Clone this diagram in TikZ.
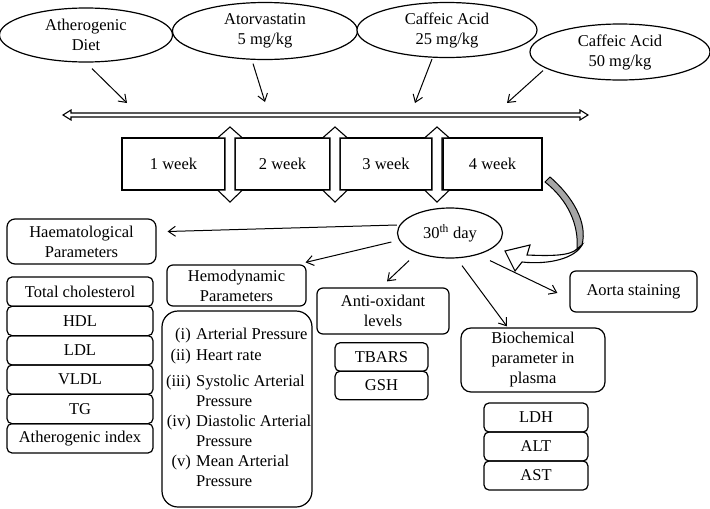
\documentclass[tikz,border=0pt]{standalone}
\usepackage{fontspec}
\setmainfont{Liberation Serif}
\usetikzlibrary{shapes.geometric,arrows.meta,calc}
\begin{document}
\begin{tikzpicture}[x=1pt,y=-1pt,
 every node/.style={font=\fontsize{16.5}{20}\selectfont, inner sep=0pt},
 ell/.style={ellipse, draw, line width=1.2pt, fill=white, align=center},
 rbox/.style={draw, rectangle, rounded corners=6pt, line width=1.2pt, align=center},
 wbox/.style={draw, rectangle, line width=1.2pt, align=center},
 arr/.style={-{Straight Barb[length=7pt,width=10pt]}, line width=1pt},
 outl/.style={line width=1.1pt, fill=white},
]
\useasboundingbox (0,0) rectangle (710,509);

% top ellipses
\node[ell, minimum width=173pt, minimum height=54pt] (ad) at (86,35) {Atherogenic\\Diet};
\node[ell, minimum width=185pt, minimum height=57pt] (ator) at (265,31) {Atorvastatin\\5 mg/kg};
\node[ell, minimum width=180pt, minimum height=55pt] (ca25) at (447,30) {Caffeic Acid\\25 mg/kg};
\node[ell, minimum width=180pt, minimum height=56pt] (ca50) at (620,52) {Caffeic Acid\\50 mg/kg};

% timeline double arrow
\coordinate (tl) at (63,115);
\coordinate (tr) at (588,115);
\draw[outl] (tl) -- ++(8,-5) -- ++(0,3) -- ($(tr)+(-8,-2)$) -- ++(0,-3) -- (tr)
  -- ++(-8,5) -- ++(0,-3) -- ($(tl)+(8,2)$) -- ++(0,3) -- cycle;
\coordinate (t1) at (127,103);
\coordinate (t2) at (265,102);
\coordinate (t3) at (415,103);
\coordinate (t4) at (507,103);
\draw[arr] ($(ad.south)+(6,6)$) -- (t1);
\draw[arr] ($(ator.south)+(-12,3.5)$) -- (t2);
\draw[arr] ($(ca25.south)+(-15,1)$) -- (t3);
\draw[arr] ($(ca50.south)+(-77,-10)$) -- (t4);

% week boxes
\node[wbox, minimum width=103pt, minimum height=52pt] (w1) at (173.5,164) {1 week};
\node[wbox, minimum width=95pt, minimum height=52pt] (w2) at (282.5,164) {2 week};
\node[wbox, minimum width=92pt, minimum height=52pt] (w3) at (386,164) {3 week};
\node[wbox, minimum width=99pt, minimum height=52pt] (w4) at (492.5,164) {4 week};

% vertical double arrows between weeks
\foreach \x in {230,335,437} {
  \draw[outl] (\x,127) -- ++(12.5,11) -- ++(-7.5,0) -- ++(0,52) -- ++(7.5,0)
    -- ++(-12.5,12) -- ++(-12.5,-12) -- ++(7.5,0) -- ++(0,-52) -- ++(-7.5,0) -- cycle;
}

% 30th day
\node[ell, minimum width=105pt, minimum height=50pt] (day) at (450,233) {30\textsuperscript{th} day};

% boxes
\node[rbox, rounded corners=8pt, minimum width=149pt, minimum height=45pt] (haem) at (81.5,241.5) {Haematological\\Parameters};
\node[rbox, minimum width=139pt, minimum height=41pt] (hemo) at (236.5,285.5) {Hemodynamic\\Parameters};
\node[rbox, minimum width=132pt, minimum height=46pt] (anti) at (383,311) {Anti-oxidant\\levels};
\node[rbox, rounded corners=10pt, minimum width=144pt, minimum height=64pt] (bio) at (533,360) {Biochemical\\parameter in\\plasma};
\node[rbox, minimum width=127pt, minimum height=41pt] (aorta) at (633.5,291.5) {Aorta staining};

% haematological list
\foreach \t [count=\i] in {Total cholesterol, HDL, LDL, VLDL, TG, Atherogenic index}
  \node[rbox, rounded corners=5pt, minimum width=146pt, minimum height=29.33pt] (hl\i) at (80,{262.33+29.33*\i}) {\t};

% antioxidant list
\node[rbox, rounded corners=5pt, minimum width=93pt, minimum height=28.5pt] (tbars) at (381.5,357) {TBARS};
\node[rbox, rounded corners=5pt, minimum width=93pt, minimum height=28.5pt] (gsh) at (381.5,385.5) {GSH};

% biochemical list
\node[rbox, rounded corners=5pt, minimum width=104pt, minimum height=29pt] (ldh) at (536,417.5) {LDH};
\node[rbox, rounded corners=5pt, minimum width=104pt, minimum height=29pt] (alt) at (536,446.5) {ALT};
\node[rbox, rounded corners=5pt, minimum width=104pt, minimum height=29pt] (ast) at (536,475.5) {AST};

% hemodynamic list
\node[rbox, rounded corners=16pt, minimum width=150pt, minimum height=196pt] (hlist) at (237,409) {};
\foreach \l/\y/\n in {(i)/339/a,(ii)/360/b,(iii)/386/c,(iv)/426/d,(v)/466/e}
  \node[anchor=base east] (lab\n) at (191,\y) {\l};
\foreach \t/\y/\n in {Arterial Pressure/339/a,Heart rate/360/b,Systolic Arterial/386/c,Pressure/406/d,Diastolic Arterial/426/e,Pressure/446/f,Mean Arterial/466/g,Pressure/486/h}
  \node[anchor=base west] (txt\n) at (196,\y) {\t};

% connectors from 30th day
\draw[arr] ($(day.west)+(0,-8)$) -- ($(haem.east)+(11,-10)$);
\draw[arr] ($(day.west)+(-5.5,9)$) -- ($(hemo.north east)+(-1,-2)$);
\draw[arr] ($(day.south)+(-41,2)$) -- ($(anti.north)+(4,-6)$);
\draw[arr] ($(day.south)+(12,7)$) -- ($(bio.north)+(-26,-1)$);
\draw[arr] ($(day.south)+(40,2)$) -- ($(aorta.west)+(-12,1.5)$);

% curved arrow from 4 week to 30th day
\draw[line width=1pt, fill=gray!70] (545,182) -- (550,177) .. controls (572,196) and (588,222) .. (582,245)
  -- (577,249) .. controls (579,225) and (568,200) .. (545,182) -- cycle;
\draw[outl] (577,249) .. controls (570,256) and (550,256) .. (527,255) -- (530,245) -- (505,251)
  -- (515,271) -- (522,262) .. controls (550,265) and (575,258) .. (582,245) -- cycle;
\end{tikzpicture}
\end{document}
